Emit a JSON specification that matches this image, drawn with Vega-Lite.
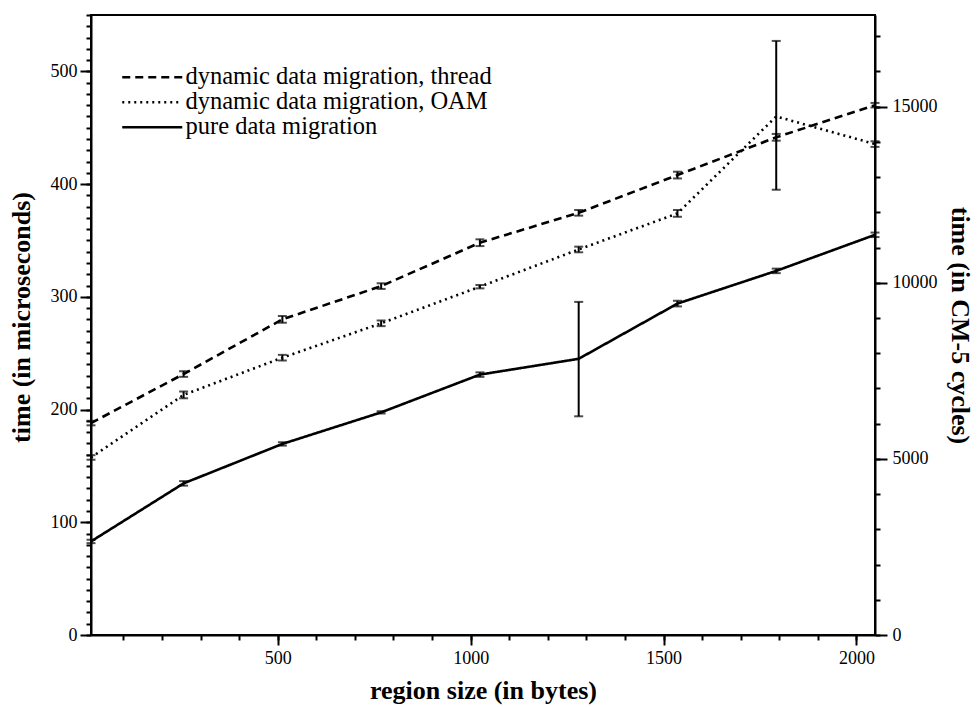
{
  "$schema": "https://vega.github.io/schema/vega-lite/v6.json",
  "width": 784,
  "height": 620,
  "autosize": {"type": "none"},
  "padding": {"left": 91, "top": 15, "right": 104, "bottom": 72},
  "background": "white",
  "config": {
    "view": {"stroke": "black", "strokeWidth": 2},
    "font": "Liberation Serif",
    "axis": {
      "domainColor": "black", "domainWidth": 2, "tickColor": "black", "tickWidth": 2,
      "labelColor": "black", "labelFont": "Liberation Serif", "labelFontSize": 18,
      "titleFont": "Liberation Serif", "titleFontSize": 26, "titleFontWeight": "bold", "titleColor": "black",
      "grid": false, "format": "d"
    }
  },
  "data": {"values": [
    {"series": "dynamic data migration, thread", "size": 16, "time": 188, "lo": 186, "hi": 190},
    {"series": "dynamic data migration, thread", "size": 256, "time": 231.5, "lo": 229, "hi": 234},
    {"series": "dynamic data migration, thread", "size": 512, "time": 280, "lo": 277, "hi": 283},
    {"series": "dynamic data migration, thread", "size": 768, "time": 309.5, "lo": 307, "hi": 312},
    {"series": "dynamic data migration, thread", "size": 1024, "time": 348, "lo": 345, "hi": 351},
    {"series": "dynamic data migration, thread", "size": 1280, "time": 374.5, "lo": 372, "hi": 377},
    {"series": "dynamic data migration, thread", "size": 1536, "time": 408, "lo": 405, "hi": 411},
    {"series": "dynamic data migration, thread", "size": 1792, "time": 441.5, "lo": 438.5, "hi": 444.5},
    {"series": "dynamic data migration, thread", "size": 2048, "time": 470, "lo": 468, "hi": 472},
    {"series": "dynamic data migration, OAM", "size": 16, "time": 157.5, "lo": 155.5, "hi": 159.5},
    {"series": "dynamic data migration, OAM", "size": 256, "time": 213, "lo": 210, "hi": 216},
    {"series": "dynamic data migration, OAM", "size": 512, "time": 246, "lo": 243.5, "hi": 248.5},
    {"series": "dynamic data migration, OAM", "size": 768, "time": 276.5, "lo": 274, "hi": 279},
    {"series": "dynamic data migration, OAM", "size": 1024, "time": 309, "lo": 307.5, "hi": 310.5},
    {"series": "dynamic data migration, OAM", "size": 1280, "time": 342, "lo": 339.5, "hi": 344.5},
    {"series": "dynamic data migration, OAM", "size": 1536, "time": 374, "lo": 371, "hi": 377},
    {"series": "dynamic data migration, OAM", "size": 1792, "time": 460, "lo": 395, "hi": 527},
    {"series": "dynamic data migration, OAM", "size": 2048, "time": 435.5, "lo": 433, "hi": 438},
    {"series": "pure data migration", "size": 16, "time": 83, "lo": 81.5, "hi": 84.5},
    {"series": "pure data migration", "size": 256, "time": 134.5, "lo": 132.5, "hi": 136.5},
    {"series": "pure data migration", "size": 512, "time": 169.5, "lo": 168, "hi": 171},
    {"series": "pure data migration", "size": 768, "time": 197.5, "lo": 196.5, "hi": 198.5},
    {"series": "pure data migration", "size": 1024, "time": 231, "lo": 229, "hi": 233},
    {"series": "pure data migration", "size": 1280, "time": 245, "lo": 194, "hi": 295.5},
    {"series": "pure data migration", "size": 1536, "time": 294, "lo": 291.5, "hi": 296.5},
    {"series": "pure data migration", "size": 1792, "time": 323, "lo": 321, "hi": 325},
    {"series": "pure data migration", "size": 2048, "time": 355, "lo": 353, "hi": 357}
  ]},
  "layer": [
    {
      "mark": {"type": "line", "color": "black", "strokeWidth": 2.6, "clip": false},
      "encoding": {
        "x": {"field": "size", "type": "quantitative",
          "scale": {"domain": [16, 2048], "nice": false, "zero": false},
          "axis": {"orient": "bottom", "values": [500, 1000, 1500, 2000], "tickSize": 10, "labelPadding": 4,
            "title": "region size (in bytes)", "titleY": 55, "titleBaseline": "middle"}},
        "y": {"field": "time", "type": "quantitative",
          "scale": {"domain": [0, 550], "nice": false, "zero": true},
          "axis": {"orient": "left", "values": [0, 100, 200, 300, 400, 500], "tickSize": 11, "labelPadding": 3,
            "title": "time (in microseconds)", "titleX": -70, "titleY": 302, "titleBaseline": "middle", "titleAngle": -90}},
        "strokeDash": {"field": "series", "type": "nominal",
          "scale": {"domain": ["dynamic data migration, thread", "dynamic data migration, OAM", "pure data migration"],
            "range": [[8, 5], [2, 4], [1, 0]]},
          "legend": {"orient": "none", "legendX": 49, "legendY": 50, "title": null, "symbolType": "M-3,0H3",
            "symbolSize": 400, "symbolStrokeWidth": 2.5, "symbolStrokeColor": "black", "symbolFillColor": "transparent",
            "labelFont": "Liberation Serif", "labelFontSize": 24.5, "labelColor": "black", "labelOffset": 21,
            "rowPadding": 0, "padding": 0, "labelLimit": 500}}
      }
    },
    {
      "mark": {"type": "errorbar", "ticks": {"size": 9, "thickness": 2}, "thickness": 2, "color": "black", "clip": false},
      "encoding": {
        "x": {"field": "size", "type": "quantitative", "scale": {"domain": [16, 2048], "nice": false, "zero": false}, "axis": null},
        "y": {"field": "lo", "type": "quantitative", "scale": {"domain": [0, 550], "nice": false, "zero": true}, "axis": null},
        "y2": {"field": "hi"}
      }
    },
    {
      "mark": {"type": "point", "opacity": 0},
      "encoding": {
        "x": {"datum": 16, "type": "quantitative", "scale": {"domain": [16, 2048], "nice": false, "zero": false},
          "axis": {"orient": "bottom", "values": [100, 200, 300, 400, 500, 600, 700, 800, 900, 1000, 1100, 1200, 1300, 1400, 1500, 1600, 1700, 1800, 1900, 2000],
            "tickSize": 5, "labels": false, "domain": false, "title": null}}
      }
    },
    {
      "mark": {"type": "point", "opacity": 0},
      "encoding": {
        "y": {"datum": 0, "type": "quantitative", "scale": {"domain": [0, 550], "nice": false, "zero": true},
          "axis": {"orient": "left", "values": [0, 10, 20, 30, 40, 50, 60, 70, 80, 90, 100, 110, 120, 130, 140, 150, 160, 170, 180, 190, 200, 210, 220, 230, 240, 250, 260, 270, 280, 290, 300, 310, 320, 330, 340, 350, 360, 370, 380, 390, 400, 410, 420, 430, 440, 450, 460, 470, 480, 490, 500, 510, 520, 530, 540, 550],
            "tickSize": 5, "labels": false, "domain": false, "title": null}}
      }
    },
    {
      "mark": {"type": "point", "opacity": 0},
      "encoding": {
        "y": {"datum": 0, "type": "quantitative", "scale": {"domain": [0, 17600], "nice": false, "zero": true},
          "axis": {"orient": "right", "values": [0, 5000, 10000, 15000], "tickSize": 12, "labelPadding": 5,
            "title": "time (in CM-5 cycles)", "titleAngle": 90, "titleX": 84, "titleY": 310, "titleBaseline": "middle"}}
      }
    },
    {
      "mark": {"type": "point", "opacity": 0},
      "encoding": {
        "y": {"datum": 0, "type": "quantitative", "scale": {"domain": [0, 17600], "nice": false, "zero": true},
          "axis": {"orient": "right", "values": [0, 1000, 2000, 3000, 4000, 5000, 6000, 7000, 8000, 9000, 10000, 11000, 12000, 13000, 14000, 15000, 16000, 17000],
            "tickSize": 5, "labels": false, "domain": false, "title": null}}
      }
    }
  ],
  "resolve": {"scale": {"x": "independent", "y": "independent"}, "axis": {"x": "independent", "y": "independent"}}
}
